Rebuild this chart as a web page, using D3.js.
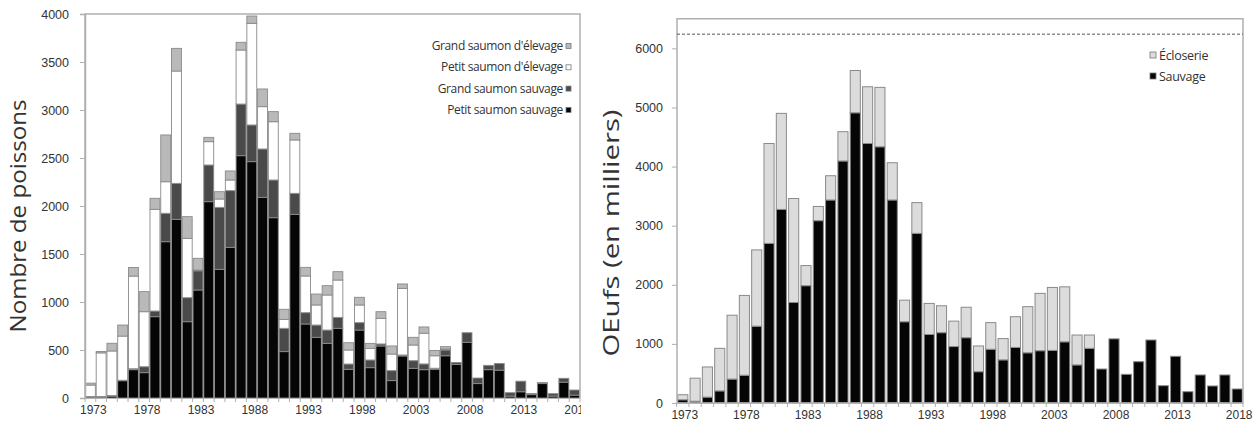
<!DOCTYPE html>
<html><head><meta charset="utf-8">
<script src="https://cdn.jsdelivr.net/npm/d3@7"></script>
<style>body{margin:0;background:#fff}svg{display:block}</style>
</head><body>
<svg id="c" width="1256" height="426"></svg>
<script>
const years = d3.range(1973, 2019);
// Left chart: Nombre de poissons (stack bottom -> top)
const petitSauvage = [10,10,20,180,295,264,847,1628,1861,795,1125,2045,1340,1569,2524,2462,2090,1878,483,1913,771,632,569,726,299,708,316,542,181,438,309,295,300,440,350,580,150,295,290,20,65,35,150,20,165,30];
const grandSauvage = [5,5,5,5,10,62,59,296,375,250,200,382,646,591,538,382,504,393,243,219,118,128,139,114,55,77,80,21,104,10,80,60,10,60,20,100,58,45,70,35,110,12,10,25,40,53];
const petitElevage = [120,455,465,460,965,573,1059,329,1170,618,8,243,87,111,563,1059,441,607,93,556,382,209,365,389,146,184,121,267,173,694,163,320,130,10,0,0,0,0,0,0,0,0,0,0,0,0];
const grandElevage = [20,15,80,115,90,209,115,487,236,226,122,45,76,94,80,76,184,105,105,69,90,114,97,87,76,80,52,69,84,46,80,65,55,25,0,0,0,0,0,0,0,0,0,0,0,0];
const leftTicks = [0,500,1000,1500,2000,2500,3000,3500,4000];
const leftLabelYears = [1973,1978,1983,1988,1993,1998,2003,2008,2013,2018];
const leftSeries = ["Petit saumon sauvage","Grand saumon sauvage","Petit saumon d'élevage","Grand saumon d'élevage"];
// Right chart: OEufs (en milliers)
const sauvage = [55,30,100,205,405,470,1300,2700,3275,1700,1985,3085,3435,4095,4910,4390,4335,3435,1375,2870,1160,1190,955,1105,530,910,730,940,850,885,890,1035,645,925,575,1085,485,699,1066,293,790,191,474,288,474,237];
const ecloserie = [85,390,510,720,1080,1350,1290,1690,1625,1760,340,240,410,495,715,960,1005,630,365,520,525,455,430,515,435,450,360,520,780,970,1065,930,505,225,0,0,0,0,0,0,0,0,0,0,0,0];
const rightTicks = [0,1000,2000,3000,4000,5000,6000];
const rightLabelYears = [1973,1978,1983,1988,1993,1998,2003,2008,2013,2018];
const rightSeries = ["Sauvage","Écloserie"];
const refLine = 6240;

const svg = d3.select("#c");
const frameCol = "#b0b0b0";
const tickFont = "Liberation Sans, Arial";
const textFont = "Open Sans, Noto Sans";

// ---------- LEFT ----------
{
  const x0 = 85, x1 = 580, yTop = 14, yBot = 398;
  const x = d3.scaleBand().domain(years).range([x0, x1]).paddingInner(0.08).paddingOuter(0.04);
  const y = d3.scaleLinear().domain([0, 4000]).range([yBot, yTop]);
  const cols = ["#050505","#4a4a4a","#ffffff","#b9b9b9"];
  const rows = years.map((yr,i)=>({year:yr,"0":petitSauvage[i],"1":grandSauvage[i],"2":petitElevage[i],"3":grandElevage[i]}));
  const stack = d3.stack().keys(["0","1","2","3"])(rows);
  const g = svg.append("g");
  stack.forEach((s,k)=>{
    g.selectAll(null).data(s.filter(d=>d[1]-d[0]>0)).enter().append("rect")
      .attr("x", d=>x(d.data.year)).attr("width", x.bandwidth())
      .attr("y", d=>y(d[1])).attr("height", d=>y(d[0])-y(d[1]))
      .attr("fill", cols[k]).attr("stroke","#8a8a8a").attr("stroke-width",0.9);
  });
  svg.append("path").attr("d",`M${x0},${yBot}V${yTop}H${x1}V${yBot}`).attr("fill","none").attr("stroke",frameCol).attr("stroke-width",1.5);
  const ya = svg.append("g").attr("transform",`translate(${x0},0)`)
    .call(d3.axisLeft(y).tickValues(leftTicks).tickSize(5).tickPadding(11).tickFormat(d3.format("d")));
  ya.select(".domain").attr("stroke",frameCol).attr("stroke-width",1.5);
  ya.selectAll(".tick line").attr("stroke",frameCol);
  ya.selectAll("text").attr("font-family",tickFont).attr("font-size",12.5).attr("fill","#333");
  svg.append("clipPath").attr("id","lc").append("rect").attr("x",0).attr("y",0).attr("width",x1+1).attr("height",426);
  const xa = svg.append("g").attr("transform",`translate(0,${yBot})`).attr("clip-path","url(#lc)");
  xa.append("line").attr("x1",x0).attr("x2",x1).attr("stroke",frameCol).attr("stroke-width",1.5);
  xa.selectAll(null).data(years.concat([2019])).enter().append("line")
    .attr("x1",d=>d===2019?x1:x(d)-x.step()*x.paddingInner()/2).attr("x2",d=>d===2019?x1:x(d)-x.step()*x.paddingInner()/2)
    .attr("y1",0).attr("y2",4).attr("stroke",frameCol);
  xa.selectAll(null).data(leftLabelYears).enter().append("text")
    .attr("x",d=>x(d)+x.bandwidth()/2+3).attr("y",16).attr("text-anchor","middle")
    .attr("font-family",tickFont).attr("font-size",12).attr("fill","#333").text(d=>d);
  svg.append("text").attr("transform","translate(26,216) rotate(-90)").attr("text-anchor","middle")
    .attr("font-family",textFont).attr("font-size",21).attr("fill","#333")
    .attr("textLength",233).attr("lengthAdjust","spacingAndGlyphs").text("Nombre de poissons");
  const lg = svg.append("g");
  [3,2,1,0].forEach((k,j)=>{
    const yy = 46 + j*21.3;
    lg.append("text").attr("x",563).attr("y",yy+4).attr("text-anchor","end")
      .attr("font-family",textFont).attr("font-size",12).attr("fill","#333").attr("letter-spacing",-0.35).text(leftSeries[k]);
    lg.append("rect").attr("x",566).attr("y",yy-2.5).attr("width",5).attr("height",5)
      .attr("fill",cols[k]).attr("stroke","#777").attr("stroke-width",0.8);
  });
}

// ---------- RIGHT ----------
{
  const x0 = 677, x1 = 1243, yBot = 403;
  const y = d3.scaleLinear().domain([0, 6500]).range([yBot, 18.8]);
  const yTop = y(6500);
  const x = d3.scaleBand().domain(years).range([x0, x1]).paddingInner(0.18).paddingOuter(0.06);
  const cols = ["#050505","#dcdcdc"];
  const rows = years.map((yr,i)=>({year:yr,"0":sauvage[i],"1":ecloserie[i]}));
  const stack = d3.stack().keys(["0","1"])(rows);
  const g = svg.append("g");
  stack.forEach((s,k)=>{
    g.selectAll(null).data(s.filter(d=>d[1]-d[0]>0)).enter().append("rect")
      .attr("x", d=>x(d.data.year)).attr("width", x.bandwidth())
      .attr("y", d=>y(d[1])).attr("height", d=>y(d[0])-y(d[1]))
      .attr("fill", cols[k]).attr("stroke","#8a8a8a").attr("stroke-width",1);
  });
  svg.append("path").attr("d",`M${x0},${yBot}V${yTop}H${x1}V${yBot}`).attr("fill","none").attr("stroke",frameCol).attr("stroke-width",1.5);
  svg.append("line").attr("x1",x0).attr("x2",x1).attr("y1",y(refLine)).attr("y2",y(refLine))
    .attr("stroke","#555").attr("stroke-width",1).attr("stroke-dasharray","3,2");
  const ya = svg.append("g").attr("transform",`translate(${x0},0)`)
    .call(d3.axisLeft(y).tickValues(rightTicks).tickSize(5).tickPadding(9).tickFormat(d3.format("d")));
  ya.select(".domain").remove();
  ya.selectAll(".tick line").attr("stroke",frameCol);
  ya.selectAll("text").attr("font-family",tickFont).attr("font-size",12.5).attr("fill","#333");
  const xa = svg.append("g").attr("transform",`translate(0,${yBot})`);
  xa.append("line").attr("x1",x0).attr("x2",x1).attr("stroke",frameCol).attr("stroke-width",1.5);
  xa.selectAll(null).data(years.concat([2019])).enter().append("line")
    .attr("x1",d=>d===2019?x1:x(d)-x.step()*x.paddingInner()/2).attr("x2",d=>d===2019?x1:x(d)-x.step()*x.paddingInner()/2)
    .attr("y1",0).attr("y2",4).attr("stroke",frameCol);
  xa.selectAll(null).data(rightLabelYears).enter().append("text")
    .attr("x",d=>x(d)+x.bandwidth()/2+2).attr("y",16).attr("text-anchor","middle")
    .attr("font-family",tickFont).attr("font-size",12).attr("fill","#333").text(d=>d);
  svg.append("text").attr("transform","translate(619,233) rotate(-90)").attr("text-anchor","middle")
    .attr("font-family",textFont).attr("font-size",21).attr("fill","#333")
    .attr("textLength",247).attr("lengthAdjust","spacingAndGlyphs").text("OEufs (en milliers)");
  const lg = svg.append("g");
  [1,0].forEach((k,j)=>{
    const yy = 55 + j*21;
    lg.append("rect").attr("x",1150).attr("y",yy-3).attr("width",6).attr("height",6)
      .attr("fill",cols[k]).attr("stroke","#777").attr("stroke-width",0.8);
    lg.append("text").attr("x",1159).attr("y",yy+4.5)
      .attr("font-family",textFont).attr("font-size",12.5).attr("fill","#333").attr("letter-spacing",-0.3).text(rightSeries[k]);
  });
}
</script>
</body></html>
